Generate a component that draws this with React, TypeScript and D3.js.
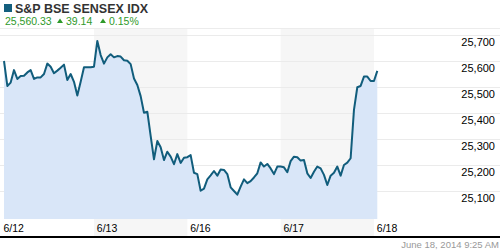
import React from "react";
import * as d3 from "d3";

const title = "S&P BSE SENSEX IDX";
const lastPrice = "25,560.33";
const netChange = "39.14";
const pctChange = "0.15%";
const timestamp = "June 18, 2014 9:25 AM";

const dayLabels = ["6/12", "6/13", "6/16", "6/17", "6/18"];
const shadedDays = [1, 3];
const pointsPerDay = 28;
const yTicks = [25100, 25200, 25300, 25400, 25500, 25600, 25700];

// intraday SENSEX values, 28 points per session
const values = [
  // 6/12
  25600, 25504, 25517, 25565, 25531, 25542, 25543, 25556, 25565, 25531,
  25537, 25537, 25550, 25590, 25578, 25553, 25563, 25574, 25586, 25527,
  25550, 25520, 25467, 25520, 25576, 25576, 25576, 25578,
  // 6/13
  25677, 25623, 25590, 25614, 25626, 25614, 25619, 25617, 25603, 25601,
  25588, 25533, 25508, 25465, 25401, 25405, 25312, 25222, 25292, 25268,
  25219, 25251, 25232, 25203, 25242, 25208, 25228, 25230,
  // 6/16
  25238, 25170, 25165, 25101, 25109, 25145, 25160, 25177, 25159, 25183,
  25181, 25165, 25114, 25100, 25086, 25117, 25145, 25130, 25138, 25152,
  25168, 25210, 25194, 25204, 25187, 25165, 25194, 25194,
  // 6/17
  25191, 25172, 25215, 25232, 25230, 25217, 25219, 25168, 25150, 25174,
  25194, 25187, 25162, 25123, 25159, 25170, 25194, 25159, 25200, 25209,
  25226, 25412, 25499, 25504, 25540, 25540, 25523, 25523,
  // 6/18
  25562,
];

const W = 500;
const H = 250;
const plotTop = 28;
const plotBottom = 219;
const axisLineY = 237;
const font = "'Liberation Sans', Arial, Helvetica, sans-serif";

export default function App() {
  const x = d3
    .scaleLinear()
    .domain([0, pointsPerDay * 4])
    .range([4, 377.3]);
  const y = d3.scaleLinear().domain([25100, 25700]).range([191, 35]);

  const line = d3
    .line<number>()
    .x((_, i) => x(i))
    .y((d) => y(d));
  const area = d3
    .area<number>()
    .x((_, i) => x(i))
    .y0(plotBottom)
    .y1((d) => y(d));

  const fmt = d3.format(",");

  return (
    <svg
      width={W}
      height={H}
      style={{ position: "fixed", left: 0, top: 0, background: "#fff" }}
      fontFamily={font}
    >
      <rect x={0} y={0} width={W} height={H} fill="#fff" />
      {/* header */}
      <rect x={4} y={4} width={8} height={8} fill="#145f7e" />
      <text x={15} y={13} fontSize={12.5} fontWeight="bold" fill="#333">
        {title}
      </text>
      <text x={5} y={24.5} fontSize={10.5} fill="#2f9a2a">
        {lastPrice}
      </text>
      <path d="M57,23 L60,18.5 L63,23 Z" fill="#2f9a2a" />
      <text x={66} y={24.5} fontSize={10.5} fill="#2f9a2a">
        {netChange}
      </text>
      <path d="M100,23 L103,18.5 L106,23 Z" fill="#2f9a2a" />
      <text x={109} y={24.5} fontSize={10.5} fill="#2f9a2a">
        {pctChange}
      </text>

      <line x1={0} x2={W} y1={plotTop + 0.5} y2={plotTop + 0.5} stroke="#ececec" />

      {/* shaded sessions */}
      {shadedDays.map((d) => (
        <rect
          key={d}
          x={x(d * pointsPerDay - 1)}
          y={plotTop + 1}
          width={x((d + 1) * pointsPerDay - 1) - x(d * pointsPerDay - 1)}
          height={axisLineY - 1 - plotTop - 1}
          fill="#f6f6f6"
        />
      ))}

      {/* gridlines */}
      {yTicks.map((t) => (
        <line
          key={t}
          x1={0}
          x2={W}
          y1={Math.round(y(t)) + 0.5}
          y2={Math.round(y(t)) + 0.5}
          stroke="#ebebeb"
        />
      ))}

      <path d={area(values) || ""} fill="#d9e6f8" />
      <path
        d={line(values) || ""}
        fill="none"
        stroke="#115d7c"
        strokeWidth={2}
        strokeLinejoin="round"
      />

      {/* y labels */}
      {yTicks.map((t) => (
        <text
          key={t}
          x={495}
          y={Math.round(y(t)) + 10.5}
          fontSize={11}
          textAnchor="end"
          fill="#000"
        >
          {fmt(t)}
        </text>
      ))}

      {/* x labels */}
      {dayLabels.map((lab, i) => (
        <text key={lab} x={x(i * pointsPerDay) - 0.5} y={231.5} fontSize={10.5} fill="#000">
          {lab}
        </text>
      ))}

      <line x1={0} x2={W} y1={axisLineY} y2={axisLineY} stroke="#000" strokeWidth={2} />

      <text x={499} y={248} fontSize={9.5} textAnchor="end" fill="#999">
        {timestamp}
      </text>
    </svg>
  );
}
